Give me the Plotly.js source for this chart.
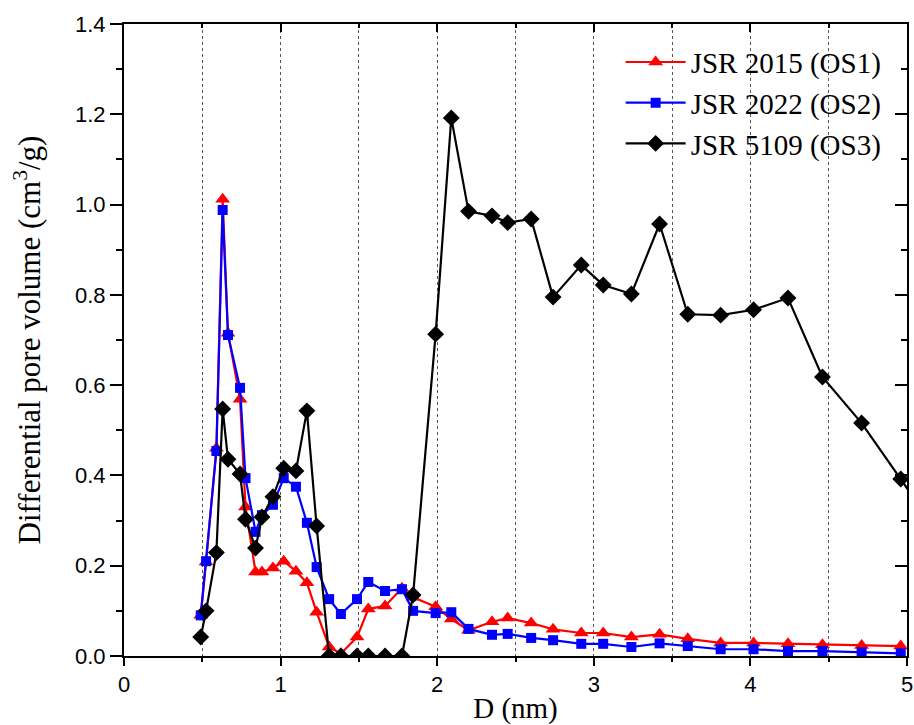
<!DOCTYPE html>
<html>
<head>
<meta charset="utf-8">
<script src="https://cdn.plot.ly/plotly-3.0.1.min.js"></script>
<style>html,body{margin:0;padding:0;background:#fff;}#chart{width:914px;height:725px;}</style>
</head>
<body>
<div id="chart"></div>
<script>
// Pore diameter D (nm)
const diam = [0.49, 0.524, 0.59, 0.63, 0.664, 0.741, 0.776, 0.84, 0.881, 0.951, 1.02, 1.098, 1.168, 1.23, 1.31, 1.385, 1.488, 1.56, 1.667, 1.775, 1.846, 1.99, 2.09, 2.2, 2.35, 2.45, 2.6, 2.74, 2.92, 3.06, 3.24, 3.42, 3.6, 3.81, 4.02, 4.24, 4.46, 4.71, 4.96];
const diamOS3 = [0.49, 0.524, 0.59, 0.63, 0.664, 0.741, 0.776, 0.84, 0.881, 0.951, 1.02, 1.098, 1.168, 1.23, 1.31, 1.385, 1.488, 1.56, 1.667, 1.775, 1.846, 1.99, 2.09, 2.2, 2.35, 2.45, 2.6, 2.74, 2.92, 3.06, 3.24, 3.42, 3.6, 3.81, 4.02, 4.24, 4.46, 4.71, 4.96, 5.2];
// Differential pore volume (cm3/g)
const os1 = [0.09, 0.208, 0.46, 1.012, 0.715, 0.569, 0.33, 0.186, 0.186, 0.195, 0.21, 0.188, 0.162, 0.097, 0.02, 0.005, 0.042, 0.104, 0.111, 0.15, 0.13, 0.109, 0.082, 0.057, 0.076, 0.084, 0.073, 0.059, 0.051, 0.051, 0.042, 0.048, 0.038, 0.029, 0.029, 0.027, 0.025, 0.023, 0.022];
const os2 = [0.09, 0.21, 0.454, 0.988, 0.711, 0.594, 0.394, 0.275, 0.312, 0.335, 0.394, 0.375, 0.295, 0.197, 0.126, 0.093, 0.126, 0.164, 0.144, 0.148, 0.1, 0.095, 0.097, 0.06, 0.047, 0.049, 0.04, 0.035, 0.027, 0.027, 0.02, 0.028, 0.022, 0.015, 0.015, 0.011, 0.011, 0.008, 0.006];
const os3 = [0.042, 0.1, 0.229, 0.547, 0.436, 0.403, 0.303, 0.239, 0.308, 0.353, 0.416, 0.41, 0.543, 0.288, 0.0, 0.0, 0.0, 0.0, 0.0, 0.0, 0.135, 0.713, 1.192, 0.985, 0.975, 0.96, 0.968, 0.795, 0.866, 0.822, 0.802, 0.957, 0.757, 0.755, 0.767, 0.793, 0.618, 0.516, 0.392, 0.27];
const seriesNames = ["JSR 2015 (OS1)", "JSR 2022 (OS2)", "JSR 5109 (OS3)"];

const serif = "Liberation Serif, Times New Roman, serif";
const sans = "Liberation Sans, Arial, sans-serif";

const traces = [
  {x: diam, y: os1, name: seriesNames[0], mode: "lines+markers",
   line: {color: "#ff0000", width: 2.2}, marker: {symbol: "triangle-up", size: 13, color: "#ff0000"}},
  {x: diam, y: os2, name: seriesNames[1], mode: "lines+markers",
   line: {color: "#0000ff", width: 2.2}, marker: {symbol: "square", size: 10, color: "#0000ff"}},
  {x: diamOS3, y: os3, name: seriesNames[2], mode: "lines+markers",
   line: {color: "#000000", width: 2.2}, marker: {symbol: "diamond", size: 13, color: "#000000"}},
  {x: [], y: [], xaxis: "x2", yaxis: "y2", showlegend: false, hoverinfo: "skip"}
];

const layout = {
  width: 914, height: 725,
  margin: {l: 124, r: 7, t: 24, b: 69},
  paper_bgcolor: "#fff", plot_bgcolor: "#fff",
  showlegend: true,
  legend: {x: 0.974, xanchor: "right", y: 0.98, yanchor: "top", bgcolor: "rgba(0,0,0,0)",
           font: {family: serif, size: 29, color: "#000"}, tracegroupgap: 0, itemwidth: 60},
  xaxis: {range: [0, 5], dtick: 1, tick0: 0, showline: true, linewidth: 2, linecolor: "#000",
          ticks: "outside", ticklen: 8, tickwidth: 2, tickcolor: "#000",
          tickfont: {family: sans, size: 22, color: "#000"},
          showgrid: true, gridcolor: "#555", gridwidth: 1, griddash: "dot",
          minor: {dtick: 0.5, ticks: "outside", ticklen: 4, tickwidth: 2, tickcolor: "#000",
                  showgrid: true, gridcolor: "#555", gridwidth: 1, griddash: "dot"},
          zeroline: false,
          title: {text: "D (nm)", font: {family: serif, size: 29, color: "#000"}, standoff: 4}},
  yaxis: {range: [0, 1.4], dtick: 0.2, tick0: 0, tickformat: ".1f", showline: true, linewidth: 2, linecolor: "#000",
          ticks: "outside", ticklen: 12, tickwidth: 2, tickcolor: "#000",
          tickfont: {family: sans, size: 22, color: "#000"},
          showgrid: false, zeroline: false,
          minor: {dtick: 0.1, ticks: "outside", ticklen: 6, tickwidth: 2, tickcolor: "#000"},
          title: {text: "Differential pore volume (cm<sup>3</sup>/g)", font: {family: serif, size: 31, color: "#000"}, standoff: 25}},
  xaxis2: {overlaying: "x", side: "top", range: [0, 5], dtick: 1, tick0: 0, showline: true, linewidth: 2, linecolor: "#000",
           ticks: "inside", ticklen: 8, tickwidth: 2, tickcolor: "#000", showticklabels: false, showgrid: false, zeroline: false,
           minor: {dtick: 0.5, ticks: "inside", ticklen: 4, tickwidth: 2, tickcolor: "#000"}},
  yaxis2: {overlaying: "y", side: "right", range: [0, 1.4], dtick: 0.2, tick0: 0, showline: true, linewidth: 2, linecolor: "#000",
           ticks: "inside", ticklen: 12, tickwidth: 2, tickcolor: "#000", showticklabels: false, showgrid: false, zeroline: false,
           minor: {dtick: 0.1, ticks: "inside", ticklen: 6, tickwidth: 2, tickcolor: "#000"}}
};

Plotly.newPlot("chart", traces, layout, {displayModeBar: false, staticPlot: true});
</script>
</body>
</html>
